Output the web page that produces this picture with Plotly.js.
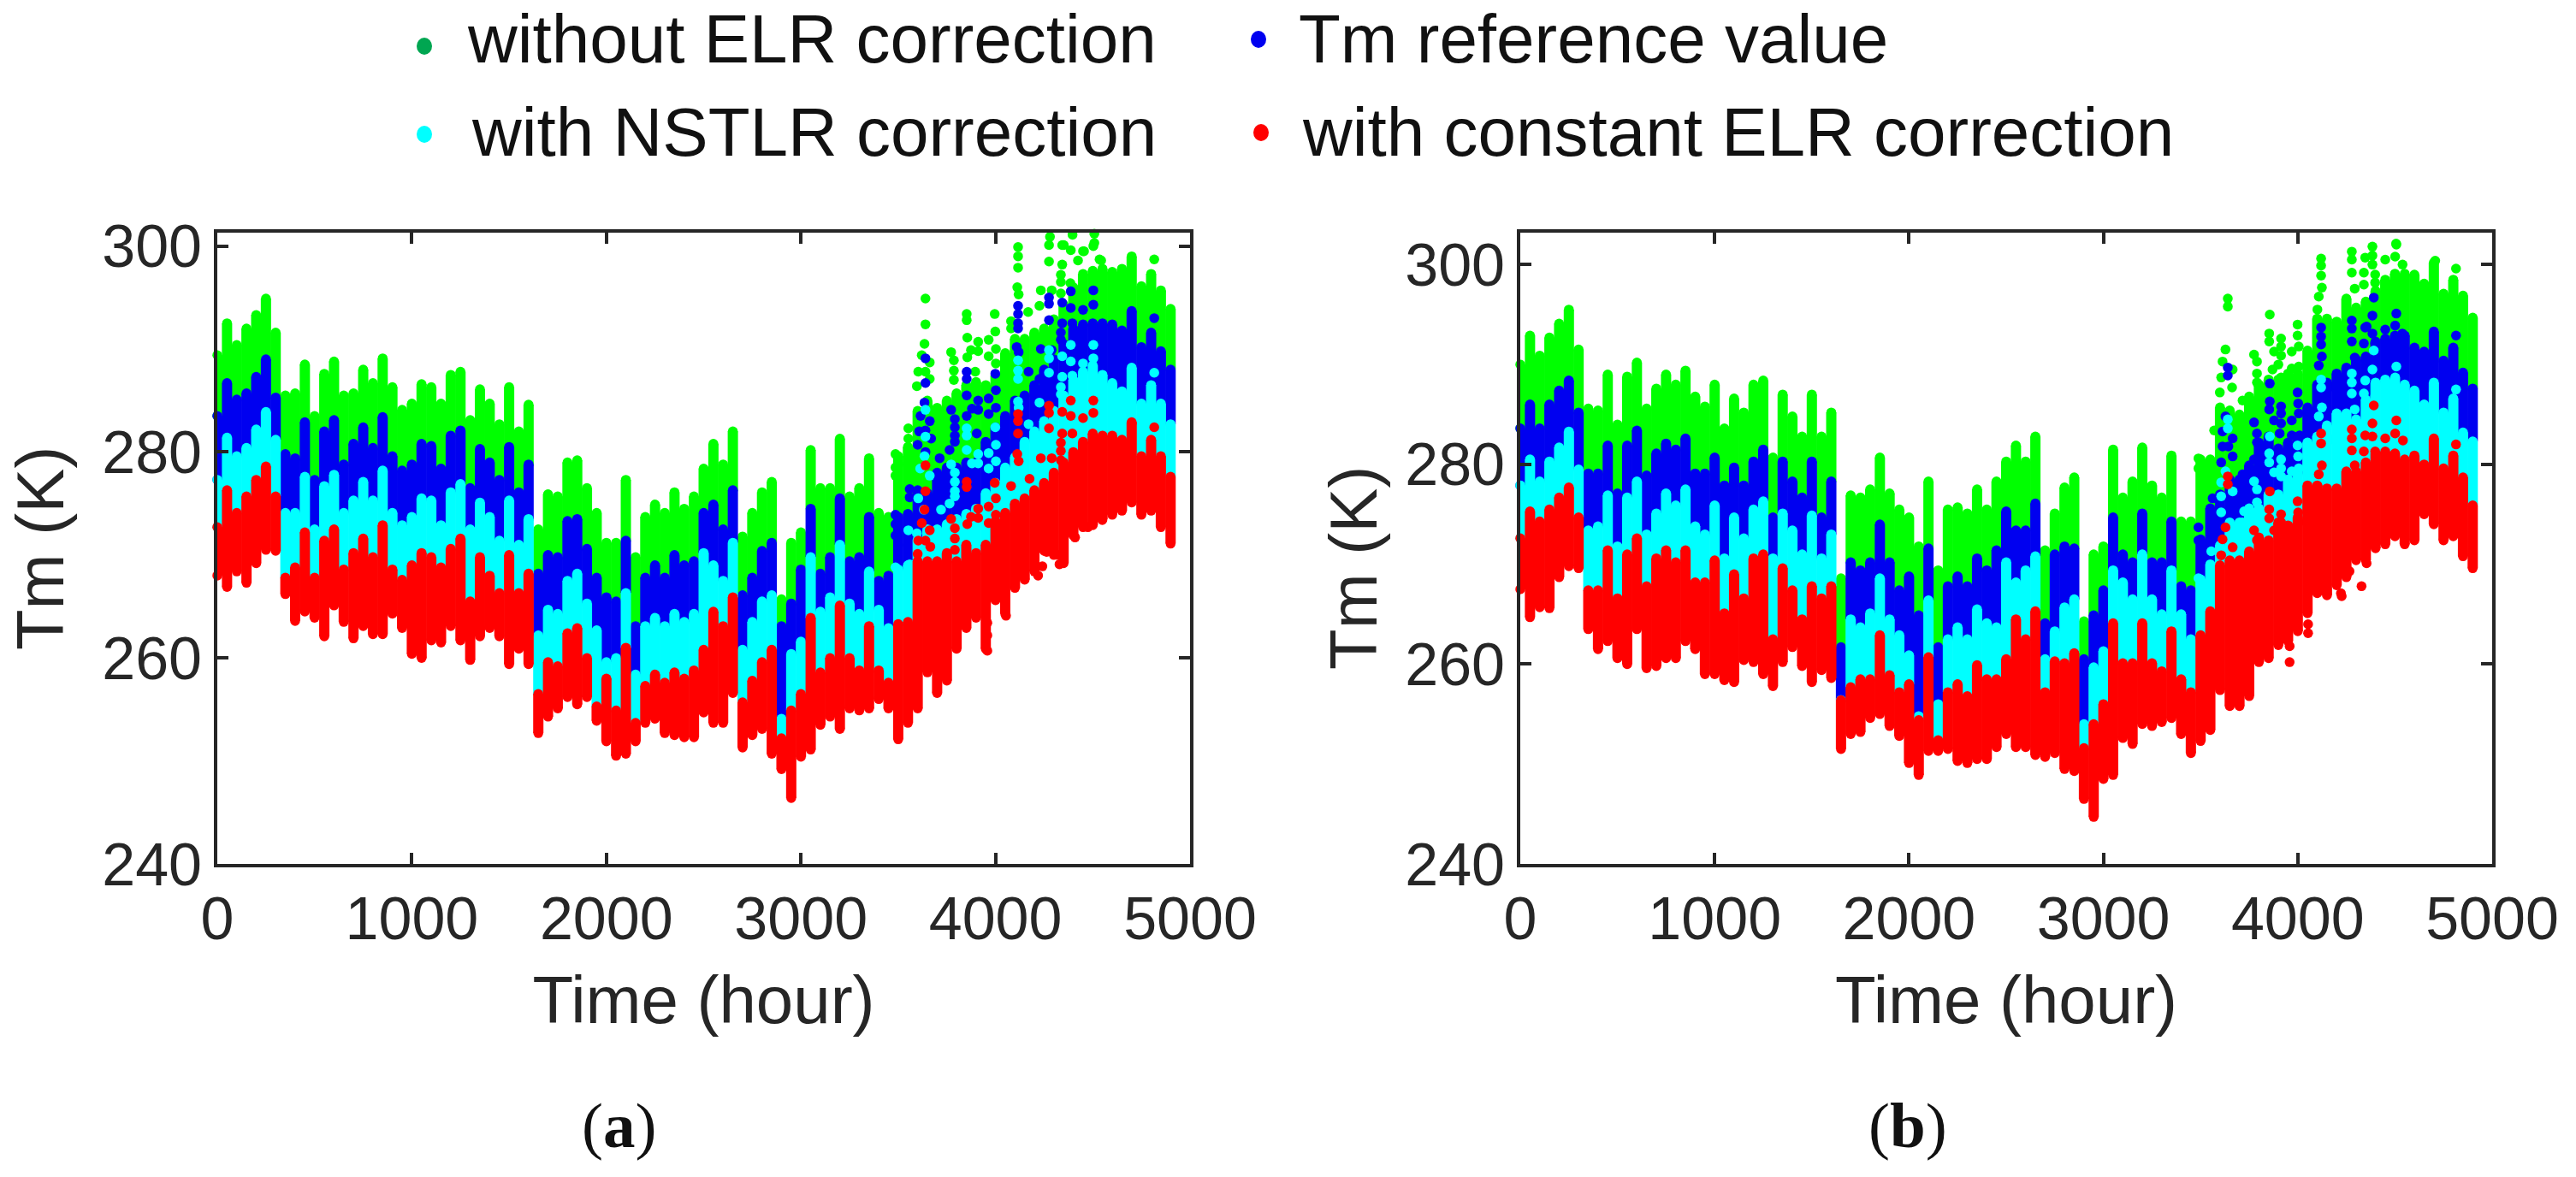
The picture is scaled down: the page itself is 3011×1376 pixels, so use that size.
<!DOCTYPE html>
<html>
<head>
<meta charset="utf-8">
<script src="https://cdn.plot.ly/plotly-3.0.1.min.js"></script>
<style>html,body{margin:0;padding:0;background:#fff}#chart{width:3011px;height:1376px}</style>
</head>
<body>
<div id="chart"></div>
<script>
const seriesNames = ['without ELR correction','Tm reference value','with NSTLR correction','with constant ELR correction'];
const xTicks = [0,1000,2000,3000,4000,5000];
const yTicks = [240,260,280,300];
const hours = [0,50,100,150,200,250,300,350,400,450,
500,550,600,650,700,750,800,850,900,950,
1000,1050,1100,1150,1200,1250,1300,1350,1400,1450,
1500,1550,1600,1650,1700,1750,1800,1850,1900,1950,
2000,2050,2100,2150,2200,2250,2300,2350,2400,2450,
2500,2550,2600,2650,2700,2750,2800,2850,2900,2950,
3000,3050,3100,3150,3200,3250,3300,3350,3400,3450,
3500,3550,3600,3650,3700,3750,3800,3850,3900,3950,
4000,4050,4100,4150,4200,4250,4300,4350,4400,4450,
4500,4550,4600,4650,4700,4750,4800,4850,4900];

// Panel (a): upper edge of each dense cloud (K)
const greenTopA = [289.4,292.5,290.4,292.0,293.3,294.9,291.6,285.5,285.7,288.5,
283.5,287.6,288.8,285.5,285.7,288.0,286.7,289.1,286.3,284.1,
284.7,286.6,286.3,284.7,287.5,287.8,283.1,286.1,284.7,282.7,
286.3,282.0,284.6,272.5,275.9,275.7,279.0,279.2,276.5,274.1,
271.2,271.2,277.3,269.8,273.7,274.9,274.1,276.1,274.5,275.7,
278.4,280.8,278.8,282.0,271.8,274.1,276.1,277.1,265.7,271.2,
272.2,280.2,276.5,276.5,281.3,275.7,276.5,279.4,274.1,273.7,
279.6,280.5,284.0,285.0,284.3,285.0,285.7,286.5,286.8,286.5,
287.4,289.6,291.0,291.0,291.6,292.0,292.9,294.3,296.0,297.3,
297.6,297.8,297.5,297.8,299.0,296.1,297.3,295.7,293.9];
const blueTopA = [283.5,286.7,285.1,285.7,287.3,289.0,285.3,279.8,279.4,282.9,
277.3,282.0,283.1,278.8,280.8,282.4,280.4,283.4,279.6,278.2,
278.8,280.8,280.6,278.4,281.6,282.1,276.5,280.3,279.0,277.3,
280.5,276.1,278.8,268.2,270.0,269.8,273.3,273.5,270.6,267.8,
265.9,265.5,271.4,263.1,267.8,269.0,267.8,270.0,269.0,269.4,
274.1,274.9,272.5,276.3,266.1,267.8,270.4,271.2,263.1,265.3,
268.6,274.5,268.2,269.8,275.5,269.4,269.8,273.7,267.5,268.0,
273.7,274.0,276.3,276.0,278.0,278.5,278.5,279.0,279.0,281.0,
282.4,283.5,285.0,285.5,286.5,288.0,289.0,290.5,292.0,292.4,
292.5,292.5,292.4,291.8,293.7,290.2,291.6,289.8,288.0];
const cyanTopA = [277.3,281.4,279.6,280.4,282.2,283.9,281.2,274.1,274.1,277.6,
272.5,276.7,277.8,274.1,275.3,277.1,275.3,278.2,274.1,272.9,
273.7,275.5,275.3,272.9,276.1,276.9,272.5,275.1,273.7,271.4,
275.3,271.0,273.5,262.2,264.7,264.3,267.5,268.2,265.3,262.7,
259.6,260.0,266.3,258.4,263.1,263.9,263.1,264.3,263.5,264.3,
270.2,269.0,267.5,271.2,260.8,263.5,265.5,266.1,254.1,260.4,
261.6,269.8,264.5,265.9,271.0,265.3,264.3,268.4,264.7,262.9,
268.6,269.0,271.5,272.5,272.5,273.0,273.5,274.0,274.5,276.0,
277.0,278.5,279.5,281.0,282.0,283.0,284.0,285.5,287.0,287.8,
288.4,287.5,286.7,285.9,288.2,284.7,286.5,284.7,282.7];
const redTopA = [272.7,276.3,274.1,275.7,277.3,278.6,275.7,267.8,268.8,272.2,
267.8,271.4,272.5,268.6,270.2,271.6,269.8,272.9,268.6,267.6,
269.0,270.2,269.8,268.8,270.6,271.6,265.5,269.8,268.0,266.3,
270.0,266.3,268.2,256.5,259.6,259.2,262.4,262.9,260.0,255.3,
258.0,254.9,261.0,253.7,257.3,258.4,257.6,258.6,258.0,258.8,
260.8,264.5,263.1,265.9,255.7,257.8,259.6,260.8,252.2,254.9,
256.5,263.9,258.6,260.0,265.1,260.0,258.8,263.1,258.8,257.6,
263.3,263.5,269.4,269.4,269.4,270.2,269.4,271.0,270.2,271.0,
273.3,274.1,275.0,275.5,276.3,277.0,278.0,279.0,280.0,281.0,
281.8,281.6,281.6,281.2,282.9,279.6,281.2,279.6,277.6];
const redLowA = [268.0,266.9,268.4,267.3,269.2,270.5,270.4,266.2,263.6,264.5,
263.9,262.1,265.1,263.5,261.9,263.1,262.3,262.3,264.3,262.9,
260.4,260.0,261.7,261.5,263.1,261.7,259.8,262.1,262.9,262.1,
259.4,260.9,259.4,252.7,254.3,255.1,256.2,255.5,256.2,253.9,
251.9,250.5,250.7,251.9,253.7,254.1,252.7,252.5,252.3,252.3,
254.7,253.7,253.7,256.6,251.3,252.5,253.1,250.7,249.2,246.4,
250.4,251.1,253.5,254.3,253.1,255.1,254.9,255.1,256.0,255.1,
252.1,253.7,255.1,258.6,256.6,257.8,260.9,262.9,263.9,260.9,
265.6,264.3,266.8,267.6,268.4,270.4,270.0,269.2,271.9,272.7,
272.9,273.5,273.9,274.3,275.1,273.9,274.3,272.7,271.1];

// Panel (a): individually readable points as [hour, K]
const greenDotsA = [[3640,294.9],[3640,292.4],[3635,290.5],[3621,289.4],[3662,288.7],[3603,287.8],[3640,287.8],[3662,287.1],[3596,286.4],[3852,293.4],[3852,292.8],[3996,293.4],[3772,289.7],[3855,291.1],[3911,290.7],[3874,289.9],[3911,289.8],[3855,289.2],[3965,290.9],[3999,291.7],[4002,290],[3965,289.3],[4002,288.6],[3786,288.9],[3786,287.9],[3786,287],[3896,287.8],[4116,299.9],[4116,299],[4116,297.9],[4112,296],[4119,295.3],[4080,292.7],[4080,292],[4168,293.6],[4233,295.7],[4289,295.7],[4275,300.1],[4275,298.5],[4343,300.1],[4336,297.2],[4336,296.5],[4387,299.6],[4450,299.5],[4503,300],[4385,296.4],[4336,295.4],[4535,298.7],[4424,298.6],[4343,298.2],[4226,294.2],[3486,279.8],[3486,278.5],[3486,277.7],[3552,282.3],[3552,281.3],[3556,280],[3548,278.8],[4396,301.1],[4508,301.2],[4508,300.3],[4455,299.5],[4543,298.6],[4816,298.7],[4351,300.1],[4280,300.9]];
const blueDotsA = [[3640,289.1],[3640,286.7],[3635,284.8],[3615,283.5],[3662,283],[3608,282],[3640,282.1],[3669,281.3],[3600,280.7],[3640,280],[3772,284.1],[3791,283.2],[3791,282.4],[3791,281.6],[3791,281],[3852,287.8],[3852,287.1],[3852,285.5],[3911,285],[3879,284.2],[3911,284.1],[3852,283.5],[3999,287.6],[4002,286],[3965,285.2],[4002,284.3],[3965,283.7],[3904,281.8],[4116,294.2],[4116,293.4],[4116,292.5],[4116,292],[4109,290.2],[4119,289.7],[4170,287.8],[4275,295],[4275,294.4],[4275,292.8],[4343,294.5],[4387,295.6],[4503,295.7],[4503,294.3],[4387,294],[4450,293.8],[4343,292.5],[4395,292.5],[4336,291.6],[4336,290.9],[4233,290],[4289,289.9],[4226,287.1],[3559,276.4],[3559,275.6],[3486,273.9],[3486,273],[3486,271.9],[3500,271],[3764,280.2],[3713,279.4],[4816,293]];
const cyanDotsA = [[3640,284.1],[3640,281.5],[3635,279.6],[3662,277.7],[3613,278.4],[3772,278.8],[3791,278],[3791,277.1],[3791,276.2],[3791,275.7],[3852,282.3],[3852,281.6],[3852,280.2],[3911,279.8],[3879,278.9],[3911,278.9],[3999,282.4],[4002,280.7],[3965,279.9],[4002,279.1],[3965,278.4],[4116,288.9],[4116,287.9],[4116,287.1],[4116,284.9],[4119,284.3],[4275,289.9],[4275,289.1],[4275,287.7],[4343,289.3],[4387,290.4],[4503,290.4],[4503,289.1],[4450,288.6],[4387,288.8],[4343,287.3],[4395,287.4],[4226,284.8],[4170,282.7],[4336,286.3],[4336,285.6],[3603,275.5],[3632,274.4],[3596,272.1],[3552,272.4],[3486,268.8],[3559,269.1],[3764,275],[3720,274.4],[4816,287.7]];
const redDotsA = [[3640,278.7],[3640,276.2],[3635,274.4],[3621,273.1],[3662,272.4],[3603,271.4],[3640,271.4],[3665,270.8],[3600,270.1],[3852,277.1],[3852,276.6],[3996,277],[3772,273.5],[3855,273],[3911,274.5],[3874,273.7],[3911,273.6],[3965,274.7],[4002,275.5],[4002,273.9],[3965,273.1],[4006,272.3],[3791,272.6],[3791,271.6],[3791,270.5],[4116,283.7],[4116,283],[4116,281.8],[4112,279.8],[4119,279.1],[4080,276.7],[4175,277.4],[4233,279.4],[4289,279.4],[4275,284.5],[4275,283.8],[4275,282.3],[4343,283.9],[4387,285],[4503,285],[4503,283.8],[4387,283.5],[4450,283.3],[4343,281.8],[4395,281.8],[4336,280.9],[4336,280.1],[4336,279.2],[4263,270.3],[4321,270],[4329,269.1],[4241,268.9],[4219,268],[4409,271.7],[4475,272.7],[4549,273.4],[3958,263.4],[3958,262.2],[3958,260.7],[4054,264.1],[4816,282.4],[4700,282.8]];

// Panel (b): upper edge of each dense cloud (K)
const greenTopB = [290.0,292.9,290.9,292.7,294.1,295.5,291.5,285.6,285.4,289.0,
284.0,288.8,290.2,285.6,287.6,289.0,288.0,289.4,286.8,285.8,
288.0,283.6,286.6,285.2,288.0,288.4,280.7,287.0,284.8,282.8,
287.0,282.8,285.2,268.6,276.9,276.7,277.5,280.7,277.1,275.5,
274.7,271.8,278.3,269.4,275.5,275.7,275.1,277.5,275.5,278.3,
280.3,281.9,280.3,282.8,271.4,275.1,277.7,278.7,264.3,271.0,
271.8,281.5,276.7,278.3,281.7,277.9,276.7,280.9,274.3,274.3,
280.5,280.5,285.7,285.4,285.0,286.8,288.0,288.5,288.5,289.1,
289.1,291.4,294.6,294.6,294.3,296.6,295.7,296.3,297.4,298.5,
299.1,299.1,299.0,298.1,300.2,297.1,298.5,296.9,294.7];
const blueTopB = [283.6,286.0,283.6,286.0,287.4,288.4,285.2,279.1,279.1,281.9,
277.1,281.9,283.4,278.9,281.1,282.1,281.5,282.6,279.1,279.1,
280.7,277.9,279.7,277.9,280.3,281.5,274.7,280.3,278.3,276.7,
280.3,274.7,278.3,261.7,270.2,269.4,270.2,274.0,270.2,267.4,
268.8,264.9,271.6,261.7,267.8,268.8,267.8,270.6,269.4,271.4,
275.3,273.4,273.4,276.1,264.1,271.0,271.8,271.6,260.5,264.9,
267.4,274.7,271.0,270.2,275.1,270.2,270.2,274.3,267.8,267.4,
272.5,275.6,277.0,278.5,278.5,279.9,282.2,282.8,281.6,282.2,
282.8,285.7,288.0,288.2,289.1,289.7,290.5,290.8,292.3,292.6,
292.9,292.9,291.7,291.3,293.3,290.4,291.7,289.2,287.6];
const cyanTopB = [277.9,280.5,278.3,280.3,281.7,283.3,279.5,273.4,273.8,276.9,
271.8,276.7,278.3,273.0,275.1,277.1,275.9,277.5,273.8,273.0,
275.9,270.6,274.7,272.6,275.5,276.3,270.6,275.1,273.4,271.0,
274.9,270.6,273.0,256.4,264.5,263.7,265.1,268.6,264.5,262.9,
260.9,254.8,266.4,256.0,262.5,263.7,262.5,265.5,264.1,263.7,
270.2,268.2,269.4,270.8,260.5,263.3,265.7,266.5,254.0,259.7,
261.3,269.4,268.2,266.5,271.0,266.5,265.0,269.4,265.0,262.5,
268.5,270.0,271.9,274.2,274.2,275.6,275.6,277.0,277.0,278.5,
279.0,282.2,282.8,283.9,285.1,285.1,284.5,286.5,288.2,288.5,
288.6,288.0,287.4,286.0,288.2,285.2,286.6,283.2,282.3];
const redTopB = [272.6,275.3,274.3,275.5,276.7,277.7,274.7,267.4,267.4,271.4,
266.6,271.0,272.6,267.8,270.6,271.4,270.2,271.4,268.2,268.2,
270.4,265.1,269.0,266.6,270.6,271.0,262.5,269.6,267.4,264.5,
267.8,266.6,267.8,256.4,257.7,258.5,258.5,262.9,258.9,257.2,
258.0,254.4,260.7,252.4,257.2,258.0,256.8,259.9,258.5,258.5,
260.5,264.5,262.5,265.3,257.2,260.3,260.1,261.1,251.6,254.0,
256.0,264.1,260.1,260.1,264.1,260.1,259.3,263.3,258.5,257.2,
262.9,265.3,269.9,270.4,270.4,271.3,272.7,272.4,274.2,273.9,
274.7,277.9,277.9,277.6,277.6,279.3,279.3,280.2,281.1,281.3,
281.1,280.5,280.9,280.0,282.6,279.6,280.9,278.7,275.9];
const redLowB = [267.5,264.7,265.7,265.6,268.7,269.8,269.6,263.5,261.5,262.3,
260.6,260.0,263.5,259.6,259.8,260.6,260.6,262.3,261.5,259.0,
259.0,258.4,258.2,260.4,260.2,259.0,257.8,260.2,261.7,259.8,
258.2,259.4,258.6,251.5,253.0,253.2,254.6,255.0,253.8,252.8,
250.1,248.9,251.3,251.3,251.5,250.3,250.1,250.5,250.5,251.7,
253.0,251.7,251.7,250.9,250.7,251.1,249.5,249.3,246.5,244.7,
248.5,248.9,252.6,252.0,254.0,253.8,254.2,254.6,253.0,251.1,
252.3,253.4,257.4,255.8,255.8,256.8,260.2,260.6,261.9,262.3,
263.3,265.1,267.1,266.9,267.9,268.7,270.4,270.4,271.6,272.0,
272.8,272.0,272.4,275.0,274.0,272.4,272.8,270.8,269.6];

// Panel (b): individually readable points as [hour, K]
const greenDotsB = [[3640,296.6],[3640,295.8],[3628,291.5],[3613,290.3],[3606,288.7],[3665,289.5],[3662,287.7],[3856,295],[3853,293.1],[3853,292.3],[3914,292.6],[3914,291.8],[3878,291.3],[3914,290.9],[3999,294],[3999,292.9],[4005,291.8],[3969,291.3],[4005,289.8],[3969,289.6],[3775,291],[3790,290.3],[3790,289.1],[3790,288.2],[3804,286.5],[3716,286.4],[3900,290],[3870,289.5],[3914,288.7],[4120,300.6],[4120,299.9],[4120,298.9],[4124,297.7],[4108,296.8],[4101,295.5],[4278,301.3],[4278,300.5],[4278,299.2],[4293,297.6],[4347,300.7],[4384,301.8],[4384,300.9],[4384,300],[4450,300.5],[4507,302],[4501,300.8],[4340,299.2],[4398,299],[4340,298],[4398,298.2],[4539,300],[3489,280.6],[3489,279.6],[3503,278.2],[3570,283.4],[3599,287.2],[4391,303.4],[4506,302.1],[4814,299.6],[4707,300.4]];
const blueDotsB = [[3640,289.7],[3640,288.9],[3628,284.8],[3613,283.3],[3613,281.8],[3643,281.8],[3665,282.6],[3665,280.8],[3606,280.2],[3775,284.2],[3790,283.1],[3790,282.2],[3804,281.4],[3804,279.6],[3856,288.1],[3856,286.3],[3853,285.5],[3914,285.8],[3914,285.1],[3878,284.4],[3914,284.1],[3907,283.1],[3999,287.2],[4002,286.1],[4005,285.1],[3969,284.4],[4010,282.9],[3969,282.9],[4120,293.7],[4120,292.8],[4120,292],[4124,290.8],[4108,289.9],[4167,287.8],[4278,294.4],[4278,293.6],[4278,292.3],[4293,290.7],[4347,293.7],[4384,294.9],[4384,293.1],[4450,293.5],[4507,295.1],[4501,293.9],[4340,292.1],[4398,292.1],[4538,293.1],[4391,296.7],[3489,273.7],[3489,272.4],[3503,271.3],[3562,276.6],[3716,279],[3775,280.5],[4814,292.9],[4354,293.8]];
const cyanDotsB = [[3640,284.5],[3640,283.6],[3628,279.3],[3606,278.2],[3606,276.8],[3665,277.3],[3775,278.3],[3790,277.5],[3790,276.2],[3804,274.4],[3856,282.8],[3853,281.1],[3853,280.2],[3914,280.5],[3914,279.6],[3878,279.2],[3914,278.8],[3999,281.9],[4002,280.8],[4005,279.6],[3969,279.3],[3969,277.6],[4120,288.5],[4120,287.7],[4124,285.7],[4108,284.8],[4167,282.5],[4278,289.1],[4278,288.2],[4278,287.1],[4293,285.5],[4347,288.4],[4384,289.5],[4507,289.8],[4501,288.7],[4391,291.4],[4340,287.1],[4398,286.8],[3489,268.6],[3606,275.2],[3555,271.3],[3716,274.2],[3724,275.3],[4814,287.5]];
const redDotsB = [[3640,278.8],[3640,278],[3628,273.7],[3613,272.5],[3606,270.9],[3665,271.7],[3665,270],[3775,273.4],[3790,272.4],[3804,270.6],[3804,268.7],[3856,277.3],[3853,275.5],[3853,274.6],[3914,275],[3914,274.2],[3878,273.4],[3914,273.2],[3999,276.3],[4002,275.2],[4005,274.2],[3969,273.6],[3969,271.9],[4120,283.1],[4120,282.1],[4124,279.9],[4108,279],[4102,277.8],[4278,283.5],[4278,282.6],[4278,281.4],[4293,279.9],[4347,282.9],[4384,284.1],[4384,282.8],[4450,282.6],[4507,284.4],[4501,283.1],[4391,285.9],[4340,281.3],[4398,281.3],[4541,282.4],[4266,269.3],[4328,267.8],[4222,267.1],[4354,270.1],[3958,261.8],[3958,260.2],[4053,264],[4053,263.1],[4226,266.8],[4814,282]];

const COLORS = ['#00ff00','#0000f0','#00ffff','#ff0000'];

function bandTrace(top, low, dots, name, color, xa, ya) {
  const x = [], y = [];
  hours.forEach((h, i) => { x.push(h, h, null); y.push(top[i], low[i], null); });
  dots.forEach(d => { x.push(d[0], null); y.push(d[1], null); });
  return {type:'scatter', mode:'lines+markers', name, x, y, xaxis:xa, yaxis:ya,
    connectgaps:false, cliponaxis:false, hoverinfo:'skip', showlegend:false,
    line:{color, width:12}, marker:{color, size:11.5}};
}

const traces = [
  bandTrace(greenTopA, blueTopA, greenDotsA, seriesNames[0], COLORS[0], 'x', 'y'),
  bandTrace(blueTopA, cyanTopA, blueDotsA, seriesNames[1], COLORS[1], 'x', 'y'),
  bandTrace(cyanTopA, redTopA, cyanDotsA, seriesNames[2], COLORS[2], 'x', 'y'),
  bandTrace(redTopA, redLowA, redDotsA, seriesNames[3], COLORS[3], 'x', 'y'),
  bandTrace(greenTopB, blueTopB, greenDotsB, seriesNames[0], COLORS[0], 'x2', 'y2'),
  bandTrace(blueTopB, cyanTopB, blueDotsB, seriesNames[1], COLORS[1], 'x2', 'y2'),
  bandTrace(cyanTopB, redTopB, cyanDotsB, seriesNames[2], COLORS[2], 'x2', 'y2'),
  bandTrace(redTopB, redLowB, redDotsB, seriesNames[3], COLORS[3], 'x2', 'y2')
];

const W = 3011, H = 1376;
const px = v => v / W, py = v => 1 - v / H;
const INK = '#262626';
const tickFont = {family:'Liberation Sans', size:70, color:INK};
const titleFont = {family:'Liberation Sans', size:78, color:INK};
const axisBase = {showgrid:false, zeroline:false, showline:true, mirror:'ticks', linecolor:INK, linewidth:4,
  ticks:'inside', ticklen:13, tickwidth:4, tickcolor:INK, tickfont:tickFont, tickmode:'array'};

const legendRows = [
  {text:seriesNames[0], x:545, y:71, mx:496, my:54, c:'#00a651'},
  {text:seriesNames[2], x:550, y:180, mx:496, my:157, c:'#00ffff'},
  {text:seriesNames[1], x:1517, y:71, mx:1471, my:46, c:'#0000f0'},
  {text:seriesNames[3], x:1521, y:180, mx:1474, my:155, c:'#ff0000'}
];

const annotations = legendRows.map(r => ({xref:'paper', yref:'paper', x:px(r.x), y:py(r.y+17), xanchor:'left', yanchor:'bottom', height:84,
  text:r.text, showarrow:false, borderpad:0, font:{family:'Liberation Sans', size:80, color:'#111'}}));
annotations.push(
  {xref:'paper', yref:'paper', x:px(723), y:py(1315), xanchor:'center', yanchor:'middle', showarrow:false, text:'(<b>a</b>)',
   font:{family:'Liberation Serif', size:75, color:'#111'}},
  {xref:'paper', yref:'paper', x:px(2230), y:py(1315), xanchor:'center', yanchor:'middle', showarrow:false, text:'(<b>b</b>)',
   font:{family:'Liberation Serif', size:75, color:'#111'}},
  {xref:'paper', yref:'paper', x:px(1582), y:py(664), xanchor:'center', yanchor:'middle', showarrow:false, textangle:-90, text:'Tm (K)', font:titleFont}
);

const shapes = legendRows.map(r => ({type:'circle', xref:'paper', yref:'paper', x0:px(r.mx-9), x1:px(r.mx+9), y0:py(r.my+10), y1:py(r.my-10),
  fillcolor:r.c, line:{width:0}}));

const layout = {
  width:W, height:H, autosize:false, margin:{l:0,r:0,t:0,b:0}, paper_bgcolor:'#fff', plot_bgcolor:'#fff', showlegend:false,
  xaxis:Object.assign({}, axisBase, {domain:[px(254),px(1391)], range:[0,5000], tickvals:xTicks, anchor:'y',
    title:{text:'Time (hour)', font:titleFont, standoff:30}}),
  yaxis:Object.assign({}, axisBase, {domain:[py(1010),py(272)], range:[240,301.3], tickvals:yTicks, anchor:'x',
    title:{text:'Tm (K)', font:titleFont, standoff:20}}),
  xaxis2:Object.assign({}, axisBase, {domain:[px(1777),px(2913)], range:[0,5000], tickvals:xTicks, anchor:'y2',
    title:{text:'Time (hour)', font:titleFont, standoff:30}}),
  yaxis2:Object.assign({}, axisBase, {domain:[py(1010),py(272)], range:[240,303.2], tickvals:yTicks, anchor:'x2'}),
  annotations, shapes
};
Plotly.newPlot('chart', traces, layout, {staticPlot:true, displayModeBar:false});
</script>
</body>
</html>
